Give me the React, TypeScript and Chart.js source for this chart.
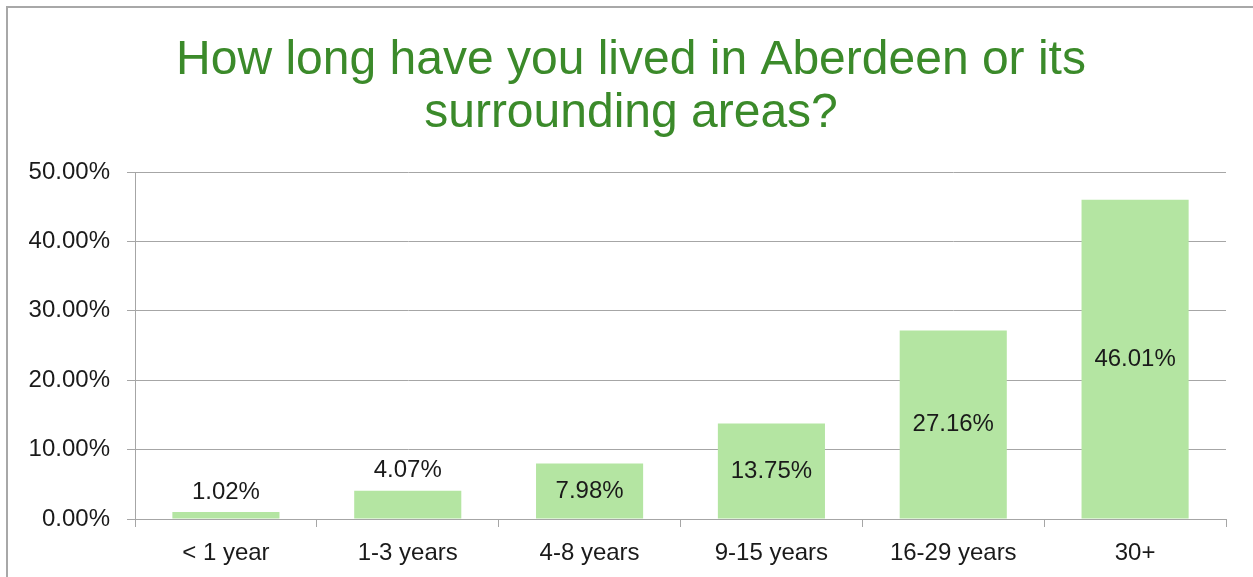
import React, { useEffect, useRef } from "react";
import { Chart, registerables } from "chart.js";

Chart.register(...registerables);

const titleLines = ["How long have you lived in Aberdeen or its", "surrounding areas?"];
const categories = ["< 1 year", "1-3 years", "4-8 years", "9-15 years", "16-29 years", "30+"];
const values = [1.02, 4.07, 7.98, 13.75, 27.16, 46.01];
const yMin = 0;
const yMax = 50;
const yStep = 10;

const FONT = "'Liberation Sans', Arial, sans-serif";
const GREEN_BAR = "#b4e5a2";
const GRID = "#a6a6a6";
const TEXT = "#1a1a1a";
const TITLE_COLOR = "#3b8a2a";

const borderPlugin = {
  id: "frameBorder",
  beforeDraw(chart: any) {
    const { ctx, width, height } = chart;
    ctx.save();
    ctx.fillStyle = "#ffffff";
    ctx.fillRect(0, 0, width, height);
    ctx.fillStyle = "#a8a8a8";
    ctx.fillRect(6, 6, 2, height - 6);
    ctx.fillRect(6, 6, width - 6, 2);
    ctx.restore();
  },
};

const titlePlugin = {
  id: "customTitle",
  afterDraw(chart: any) {
    const { ctx } = chart;
    ctx.save();
    ctx.font = `48px ${FONT}`;
    ctx.fillStyle = TITLE_COLOR;
    ctx.textAlign = "center";
    ctx.textBaseline = "alphabetic";
    titleLines.forEach((line, i) => {
      ctx.fillText(line, 631, 73.5 + i * 53.5);
    });
    ctx.restore();
  },
};

const labelPlugin = {
  id: "barValueLabels",
  afterDatasetsDraw(chart: any) {
    const { ctx } = chart;
    const meta = chart.getDatasetMeta(0);
    const data = chart.data.datasets[0].data as number[];
    ctx.save();
    ctx.font = `24px ${FONT}`;
    ctx.fillStyle = TEXT;
    ctx.textAlign = "center";
    ctx.textBaseline = "middle";
    meta.data.forEach((el: any, i: number) => {
      const { x, y, base } = el.getProps(["x", "y", "base"], true);
      const h = base - y;
      const text = data[i].toFixed(2) + "%";
      if (h >= 40) {
        ctx.fillText(text, x, (y + base) / 2);
      } else {
        ctx.fillText(text, x, y - 20);
      }
    });
    ctx.restore();
  },
};

export default function App() {
  const ref = useRef<HTMLCanvasElement | null>(null);

  useEffect(() => {
    if (!ref.current) return;
    const chart = new Chart(ref.current, {
      type: "bar",
      data: {
        labels: categories,
        datasets: [
          {
            data: values,
            backgroundColor: GREEN_BAR,
            borderWidth: 0,
            barPercentage: 0.589,
            categoryPercentage: 1,
          },
        ],
      },
      options: {
        responsive: false,
        animation: false,
        devicePixelRatio: 1,
        layout: { padding: { left: 8, right: 27, top: 172, bottom: 0 } },
        plugins: {
          legend: { display: false },
          tooltip: { enabled: false },
          title: { display: false },
        },
        scales: {
          x: {
            grid: {
              display: true,
              drawOnChartArea: false,
              drawTicks: true,
              tickLength: 8,
              color: GRID,
              offset: true,
            },
            border: { display: true, color: GRID, width: 1 },
            ticks: {
              color: TEXT,
              font: { family: FONT, size: 24 },
              padding: 12,
              maxRotation: 0,
            },
            afterFit(scale: any) {
              scale.height = 58;
            },
          },
          y: {
            min: yMin,
            max: yMax,
            grid: {
              color: GRID,
              tickLength: 8,
              drawTicks: true,
            },
            border: { display: true, color: GRID, width: 1 },
            ticks: {
              stepSize: yStep,
              color: TEXT,
              font: { family: FONT, size: 24 },
              padding: 17,
              callback: (v: any) => Number(v).toFixed(2) + "%",
            },
            afterFit(scale: any) {
              scale.width = 127;
            },
          },
        },
      },
      plugins: [borderPlugin, titlePlugin, labelPlugin],
    });
    return () => chart.destroy();
  }, []);

  return (
    <div style={{ position: "absolute", left: 0, top: 0, width: 1253, height: 577 }}>
      <canvas ref={ref} width={1253} height={577} style={{ display: "block", width: 1253, height: 577 }} />
    </div>
  );
}
